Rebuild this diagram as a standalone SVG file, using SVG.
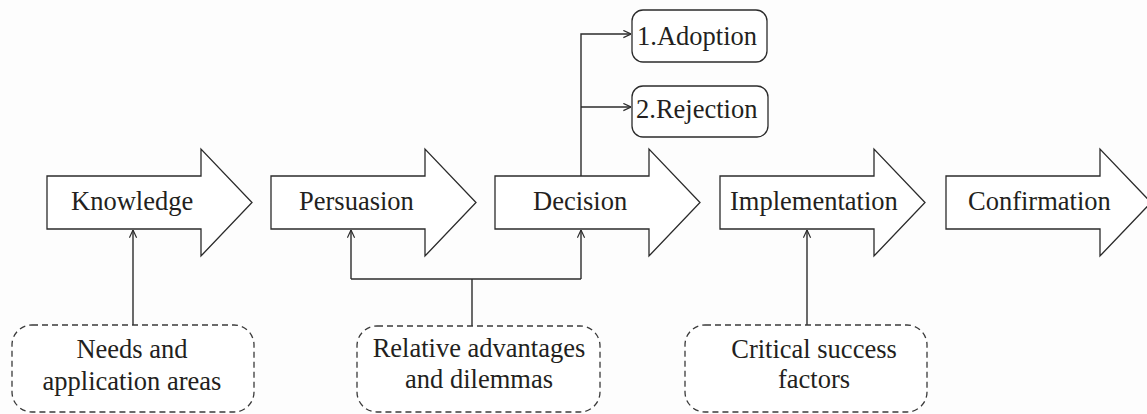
<svg xmlns="http://www.w3.org/2000/svg" xmlns:xlink="http://www.w3.org/1999/xlink" width="1147" height="414" viewBox="0 0 1147 414">
<style>
.bg{fill:#fdfdfd}
.arrow{fill:#ffffff;stroke:#2b2b2b;stroke-width:1.3;stroke-linejoin:miter}
.dash{fill:#ffffff;stroke:#3a3a3a;stroke-width:1.3;stroke-dasharray:6 4}
.res{fill:#ffffff;stroke:#2b2b2b;stroke-width:1.3}
.lbl{font-family:'Liberation Serif','DejaVu Serif',serif;font-size:26.5px;fill:#231f20}
.mid{text-anchor:middle}
.conn{fill:none;stroke:#2b2b2b;stroke-width:1.4}
</style>
<defs>
<path id="bigArrow" d="M0,176 H154 V149 L205,202.5 L154,256 V229 H0 Z"/>
<marker id="open" viewBox="0 0 10 10" refX="9.5" refY="5" markerWidth="9" markerHeight="9" markerUnits="userSpaceOnUse" orient="auto">
<path d="M1,1 L9.5,5 L1,9" fill="none" stroke="#2b2b2b" stroke-width="1.3"/>
</marker>
</defs>
<rect class="bg" x="0" y="0" width="1147" height="414"/>

<g id="connectors">
<path class="conn" d="M133,325 V230" marker-end="url(#open)"/>
<path class="conn" d="M472,326 V279"/>
<path class="conn" d="M351,279 H581"/>
<path class="conn" d="M351,279 V230" marker-end="url(#open)"/>
<path class="conn" d="M581,279 V230" marker-end="url(#open)"/>
<path class="conn" d="M807,325 V230" marker-end="url(#open)"/>
<path class="conn" d="M581,176 V34 H631" marker-end="url(#open)"/>
<path class="conn" d="M581,107 H631" marker-end="url(#open)"/>
</g>

<g id="knowledge">
<use xlink:href="#bigArrow" class="arrow" transform="translate(47,0)"/>
<text class="lbl" x="71" y="210" font-family="Liberation Serif, serif">Knowledge</text>
</g>
<g id="persuasion">
<use xlink:href="#bigArrow" class="arrow" transform="translate(271,0)"/>
<text class="lbl" x="299" y="210">Persuasion</text>
</g>
<g id="decision">
<use xlink:href="#bigArrow" class="arrow" transform="translate(495,0)"/>
<text class="lbl" x="533" y="210">Decision</text>
</g>
<g id="implementation">
<use xlink:href="#bigArrow" class="arrow" transform="translate(720,0)"/>
<text class="lbl" x="730" y="210">Implementation</text>
</g>
<g id="confirmation">
<use xlink:href="#bigArrow" class="arrow" transform="translate(946,0)"/>
<text class="lbl" x="968" y="210">Confirmation</text>
</g>

<g id="adoption">
<rect class="res" x="632" y="10" width="135" height="52" rx="11"/>
<text class="lbl" x="637" y="45">1.Adoption</text>
</g>
<g id="rejection">
<rect class="res" x="632" y="86" width="136" height="51" rx="11"/>
<text class="lbl" x="636" y="118">2.Rejection</text>
</g>

<g id="needs">
<rect class="dash" x="12" y="325" width="242" height="87" rx="20"/>
<text class="lbl mid" x="132" y="358">Needs and</text>
<text class="lbl mid" x="132" y="390">application areas</text>
</g>
<g id="relative">
<rect class="dash" x="357" y="326" width="243" height="86" rx="20"/>
<text class="lbl mid" x="479" y="357">Relative advantages</text>
<text class="lbl mid" x="479" y="388">and dilemmas</text>
</g>
<g id="critical">
<rect class="dash" x="685" y="325" width="242" height="87" rx="20"/>
<text class="lbl mid" x="814" y="358">Critical success</text>
<text class="lbl mid" x="814" y="388">factors</text>
</g>
</svg>
